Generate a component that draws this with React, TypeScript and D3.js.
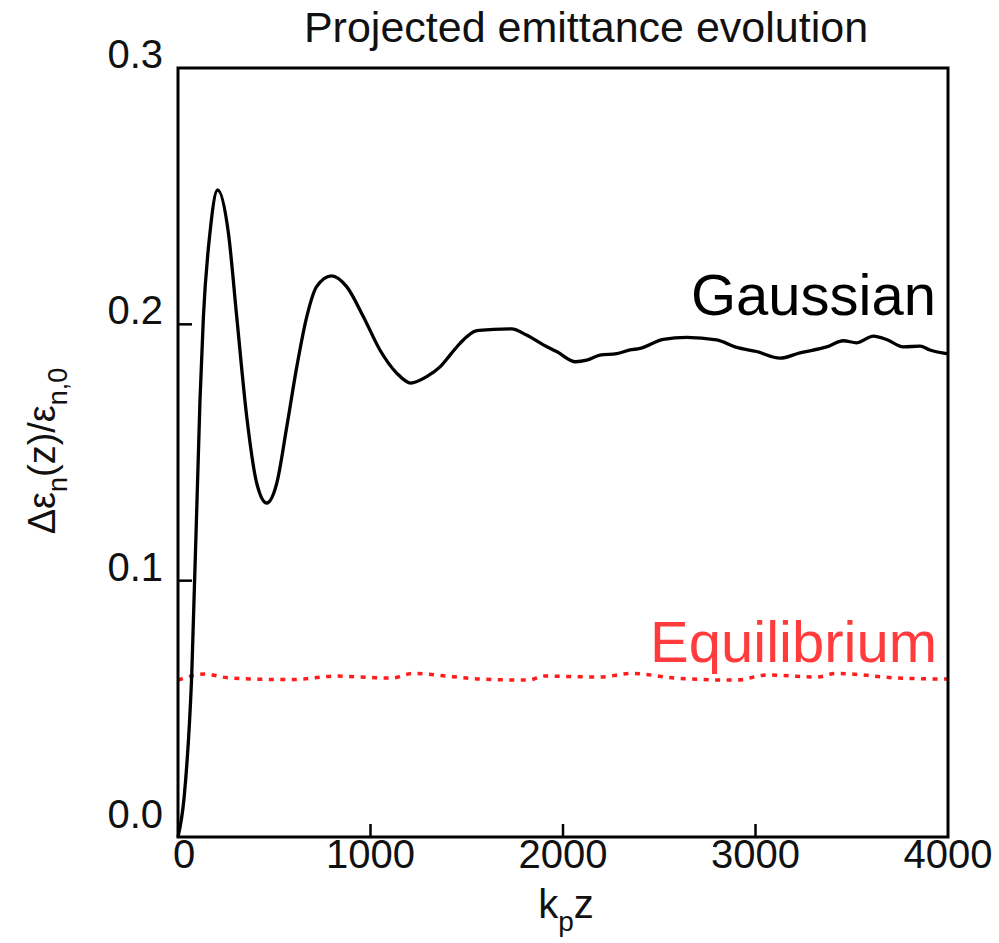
import React from "react";
import * as d3 from "d3";

// Normalised projected emittance growth vs. k_p z
const gaussianZ = [0, 32, 71, 114, 132, 166, 206, 262, 305, 357, 409, 461, 513, 565, 617, 669, 720, 798, 876, 963, 1049, 1136, 1209, 1292, 1361, 1413, 1465, 1552, 1638, 1733, 1811, 1898, 1967, 2066, 2123, 2192, 2279, 2348, 2400, 2521, 2642, 2798, 2902, 3006, 3127, 3231, 3370, 3456, 3526, 3612, 3681, 3768, 3855, 3906, 4000];
const gaussianV = [0, 0.0156, 0.0624, 0.17, 0.203, 0.2357, 0.2524, 0.2355, 0.203, 0.164, 0.138, 0.1303, 0.138, 0.16, 0.1834, 0.203, 0.2147, 0.2189, 0.2147, 0.203, 0.19, 0.181, 0.1771, 0.1796, 0.1834, 0.188, 0.1926, 0.1975, 0.198, 0.1982, 0.1958, 0.192, 0.1894, 0.1854, 0.186, 0.188, 0.1886, 0.19, 0.1906, 0.1941, 0.1949, 0.1939, 0.191, 0.1894, 0.1868, 0.1889, 0.1912, 0.1936, 0.1928, 0.1954, 0.1941, 0.1912, 0.1915, 0.19, 0.1885];

const equilibriumZ = [0, 140, 250, 450, 600, 820, 1000, 1110, 1220, 1430, 1580, 1820, 1900, 2190, 2360, 2580, 2900, 3060, 3320, 3420, 3740, 4000];
const equilibriumV = [0.0612, 0.0636, 0.0622, 0.0615, 0.0614, 0.0628, 0.0622, 0.062, 0.0638, 0.0625, 0.0616, 0.0612, 0.0628, 0.0624, 0.0638, 0.062, 0.0612, 0.0632, 0.0624, 0.0638, 0.062, 0.0616];

const xTicks = [0, 1000, 2000, 3000, 4000];
const yTicks = [0, 0.1, 0.2, 0.3];

const W = 999;
const H = 943;
const M = { left: 178, right: 948, top: 68, bottom: 837 };

export default function App() {
  const x = d3.scaleLinear().domain([0, 4000]).range([M.left, M.right]);
  const y = d3.scaleLinear().domain([0, 0.3]).range([M.bottom, M.top]);

  const line = d3
    .line<number>()
    .x((_, i) => x(gaussianZ[i]))
    .y((d) => y(d))
    .curve(d3.curveMonotoneX);

  const eqLine = d3
    .line<number>()
    .x((_, i) => x(equilibriumZ[i]))
    .y((d) => y(d))
    .curve(d3.curveMonotoneX);

  const font = "'Liberation Sans', Arial, sans-serif";

  return (
    <svg
      width={W}
      height={H}
      style={{ position: "absolute", left: 0, top: 0, background: "#fff" }}
      fontFamily={font}
    >
      <rect x={0} y={0} width={W} height={H} fill="#fff" />
      <text x={586} y={42} fontSize={43} textAnchor="middle" fill="#111">
        Projected emittance evolution
      </text>

      {/* series */}
      <path
        d={eqLine(equilibriumV) || ""}
        fill="none"
        stroke="#ff1c1c"
        strokeWidth={3.5}
        strokeDasharray="5 6.5"
      />
      <path d={line(gaussianV) || ""} fill="none" stroke="#000" strokeWidth={3.3} strokeLinejoin="round" />

      {/* frame */}
      <rect
        x={M.left}
        y={M.top}
        width={M.right - M.left}
        height={M.bottom - M.top}
        fill="none"
        stroke="#000"
        strokeWidth={3}
      />

      {/* y axis ticks & labels */}
      {yTicks.map((t, i) => (
        <g key={"y" + t}>
          {i > 0 && i < yTicks.length - 1 && (
            <line x1={M.left} x2={M.left + 14} y1={y(t)} y2={y(t)} stroke="#000" strokeWidth={2.5} />
          )}
          <text x={163} y={y(t) - (i === 0 ? 9 : 0)} fontSize={40} textAnchor="end" fill="#111">
            {t.toFixed(1)}
          </text>
        </g>
      ))}

      {/* x axis ticks & labels */}
      {xTicks.map((t, i) => (
        <g key={"x" + t}>
          {i > 0 && i < xTicks.length - 1 && (
            <line x1={x(t)} x2={x(t)} y1={M.bottom} y2={M.bottom - 13} stroke="#000" strokeWidth={2.5} />
          )}
          <text x={x(t) + (i === 0 ? 6 : 0)} y={868} fontSize={40} textAnchor="middle" fill="#111">
            {t}
          </text>
        </g>
      ))}

      {/* axis titles */}
      <text x={566} y={918} fontSize={40} textAnchor="middle" fill="#111">
        k<tspan fontSize={28} dy={13}>p</tspan>
        <tspan dy={-13}>z</tspan>
      </text>
      <text
        transform="translate(55,451) rotate(-90)"
        fontSize={38}
        textAnchor="middle"
        fill="#111"
      >
        Δε<tspan fontSize={27} dy={12}>n</tspan>
        <tspan dy={-12}>(z)/ε</tspan>
        <tspan fontSize={27} dy={12}>n,0</tspan>
      </text>

      {/* series labels */}
      <text x={936} y={315} fontSize={58} textAnchor="end" fill="#000">
        Gaussian
      </text>
      <text x={937} y={662} fontSize={58} textAnchor="end" fill="#ff3b3b">
        Equilibrium
      </text>
    </svg>
  );
}
